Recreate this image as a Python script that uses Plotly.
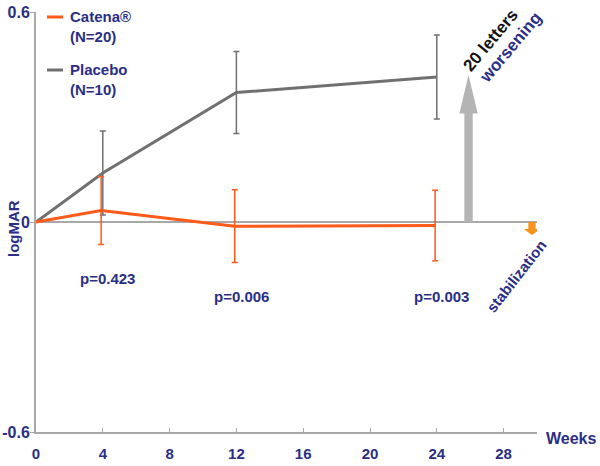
import plotly.graph_objects as go

weeks = [0, 4, 12, 24]
catena = [0.0, 0.033, -0.012, -0.01]
catena_err = [0.0, 0.097, 0.104, 0.101]
placebo = [0.0, 0.14, 0.37, 0.414]
placebo_err = [0.0, 0.12, 0.117, 0.12]
pvals = ["p=0.423", "p=0.006", "p=0.003"]
p_weeks = [4.3, 12.3, 24.3]
p_y = [-0.16, -0.214, -0.214]
xticks = [0, 4, 8, 12, 16, 20, 24, 28]
yticks = [-0.6, 0, 0.6]
ytick_text = ["-0.6", "0", "0.6"]
legend_names = ["Catena®<br>(N=20)", "Placebo<br>(N=10)"]

NAVY = "#2A2E86"
ORANGE = "#FF5A1A"
GREY = "#707070"
AXIS = "#A8A8A8"
FONT = "Liberation Sans"

W, H = 600, 466
L, T = 36, 12
Rr, Bb = 537, 432
pw, ph = Rr - L, Bb - T


def px(x, y):
    """page pixel -> paper coords"""
    return (x - L) / pw, 1 - (y - T) / ph


fig = go.Figure()

fig.add_trace(go.Scatter(
    x=weeks, y=placebo, mode="lines", name="Placebo",
    line=dict(color=GREY, width=3),
    error_y=dict(type="data", array=placebo_err, color=GREY, thickness=1.5, width=3),
))
fig.add_trace(go.Scatter(
    x=[w - 0.1 if w else w for w in weeks], y=catena, mode="lines", name="Catena®",
    line=dict(color=ORANGE, width=3),
    error_y=dict(type="data", array=catena_err, color=ORANGE, thickness=1.5, width=3),
))

shapes = []
# zero line
shapes.append(dict(type="line", xref="x", yref="y", x0=0, x1=31.3, y0=0, y1=0,
                   line=dict(color=AXIS, width=2), layer="below"))
# grey worsening arrow
ax, ay_top = 25.9, 0.42
shapes.append(dict(type="path", xref="x", yref="y",
                   path=f"M {ax-0.25},0 L {ax+0.25},0 L {ax+0.25},{ay_top-0.11} L {ax+0.55},{ay_top-0.11} "
                        f"L {ax},{ay_top} L {ax-0.55},{ay_top-0.11} L {ax-0.25},{ay_top-0.11} Z",
                   fillcolor="#B4B4B4", line=dict(width=0)))
# orange stabilization arrow
bx = 29.7
shapes.append(dict(type="path", xref="x", yref="y",
                   path=f"M {bx-0.22},0 L {bx+0.22},0 L {bx+0.22},-0.02 L {bx+0.5},-0.02 "
                        f"L {bx},-0.037 L {bx-0.5},-0.02 L {bx-0.22},-0.02 Z",
                   fillcolor="#F7941D", line=dict(width=0)))

# manual legend lines
for (ly_line, col) in [(17, ORANGE), (70, GREY)]:
    x0, y0 = px(47, ly_line)
    x1, _ = px(63, ly_line)
    shapes.append(dict(type="line", xref="paper", yref="paper", x0=x0, x1=x1, y0=y0, y1=y0,
                       line=dict(color=col, width=3)))

annotations = []
for w, yv, t in zip(p_weeks, p_y, pvals):
    annotations.append(dict(x=w, y=yv, xref="x", yref="y", text=t, showarrow=False,
                            font=dict(family=FONT, size=15, color=NAVY)))
for (ly_text, name) in [(27, legend_names[0]), (80, legend_names[1])]:
    tx, ty = px(68, ly_text)
    annotations.append(dict(x=tx, y=ty, xref="paper", yref="paper", text=name, showarrow=False,
                            xanchor="left", yanchor="middle", align="left",
                            font=dict(family=FONT, size=15, color=NAVY)))
wx, wy = px(571, 438)
lx, ly = px(13, 229)
annotations += [
    dict(x=27.2, y=0.52, xref="x", yref="y", text="20 letters", showarrow=False,
         textangle=-50, font=dict(family=FONT, size=17, color="#111111")),
    dict(x=28.4, y=0.50, xref="x", yref="y", text="worsening", showarrow=False,
         textangle=-50, font=dict(family=FONT, size=17, color=NAVY)),
    dict(x=28.8, y=-0.154, xref="x", yref="y", text="stabilization", showarrow=False,
         textangle=-52, font=dict(family=FONT, size=15, color=NAVY)),
    dict(x=wx, y=wy, xref="paper", yref="paper", text="Weeks", showarrow=False,
         xanchor="center", yanchor="middle",
         font=dict(family=FONT, size=16, color=NAVY)),
    dict(x=lx, y=ly, xref="paper", yref="paper", text="logMAR", showarrow=False, textangle=-90,
         xanchor="center", yanchor="middle",
         font=dict(family=FONT, size=15, color=NAVY)),
]

fig.update_layout(
    width=W, height=H,
    margin=dict(l=L, r=W - Rr, t=T, b=H - Bb, autoexpand=False),
    paper_bgcolor="white", plot_bgcolor="white",
    font=dict(family=FONT, color=NAVY, size=14),
    showlegend=False,
    xaxis=dict(range=[0, 30], tickvals=xticks, ticks="inside", ticklen=4, tickcolor=AXIS,
               showline=True, linecolor=AXIS, linewidth=2, showgrid=False, zeroline=False,
               automargin=False,
               tickfont=dict(family=FONT, size=15, color=NAVY), ticklabelstandoff=7),
    yaxis=dict(range=[-0.6, 0.6], tickvals=yticks, ticktext=ytick_text,
               ticks="outside", ticklen=4, tickcolor=AXIS, automargin=False,
               showline=True, linecolor=AXIS, linewidth=2, showgrid=False, zeroline=False,
               tickfont=dict(family=FONT, size=16, color=NAVY), ticklabelstandoff=-3),
    shapes=shapes, annotations=annotations,
)
fig.update_xaxes(tickfont=dict(weight="bold"))
fig.update_yaxes(tickfont=dict(weight="bold"))
for a in fig.layout.annotations:
    a.font.weight = "bold"

fig.write_html("out.html", config={"displayModeBar": False},
               post_script="document.body.style.margin='0';")
